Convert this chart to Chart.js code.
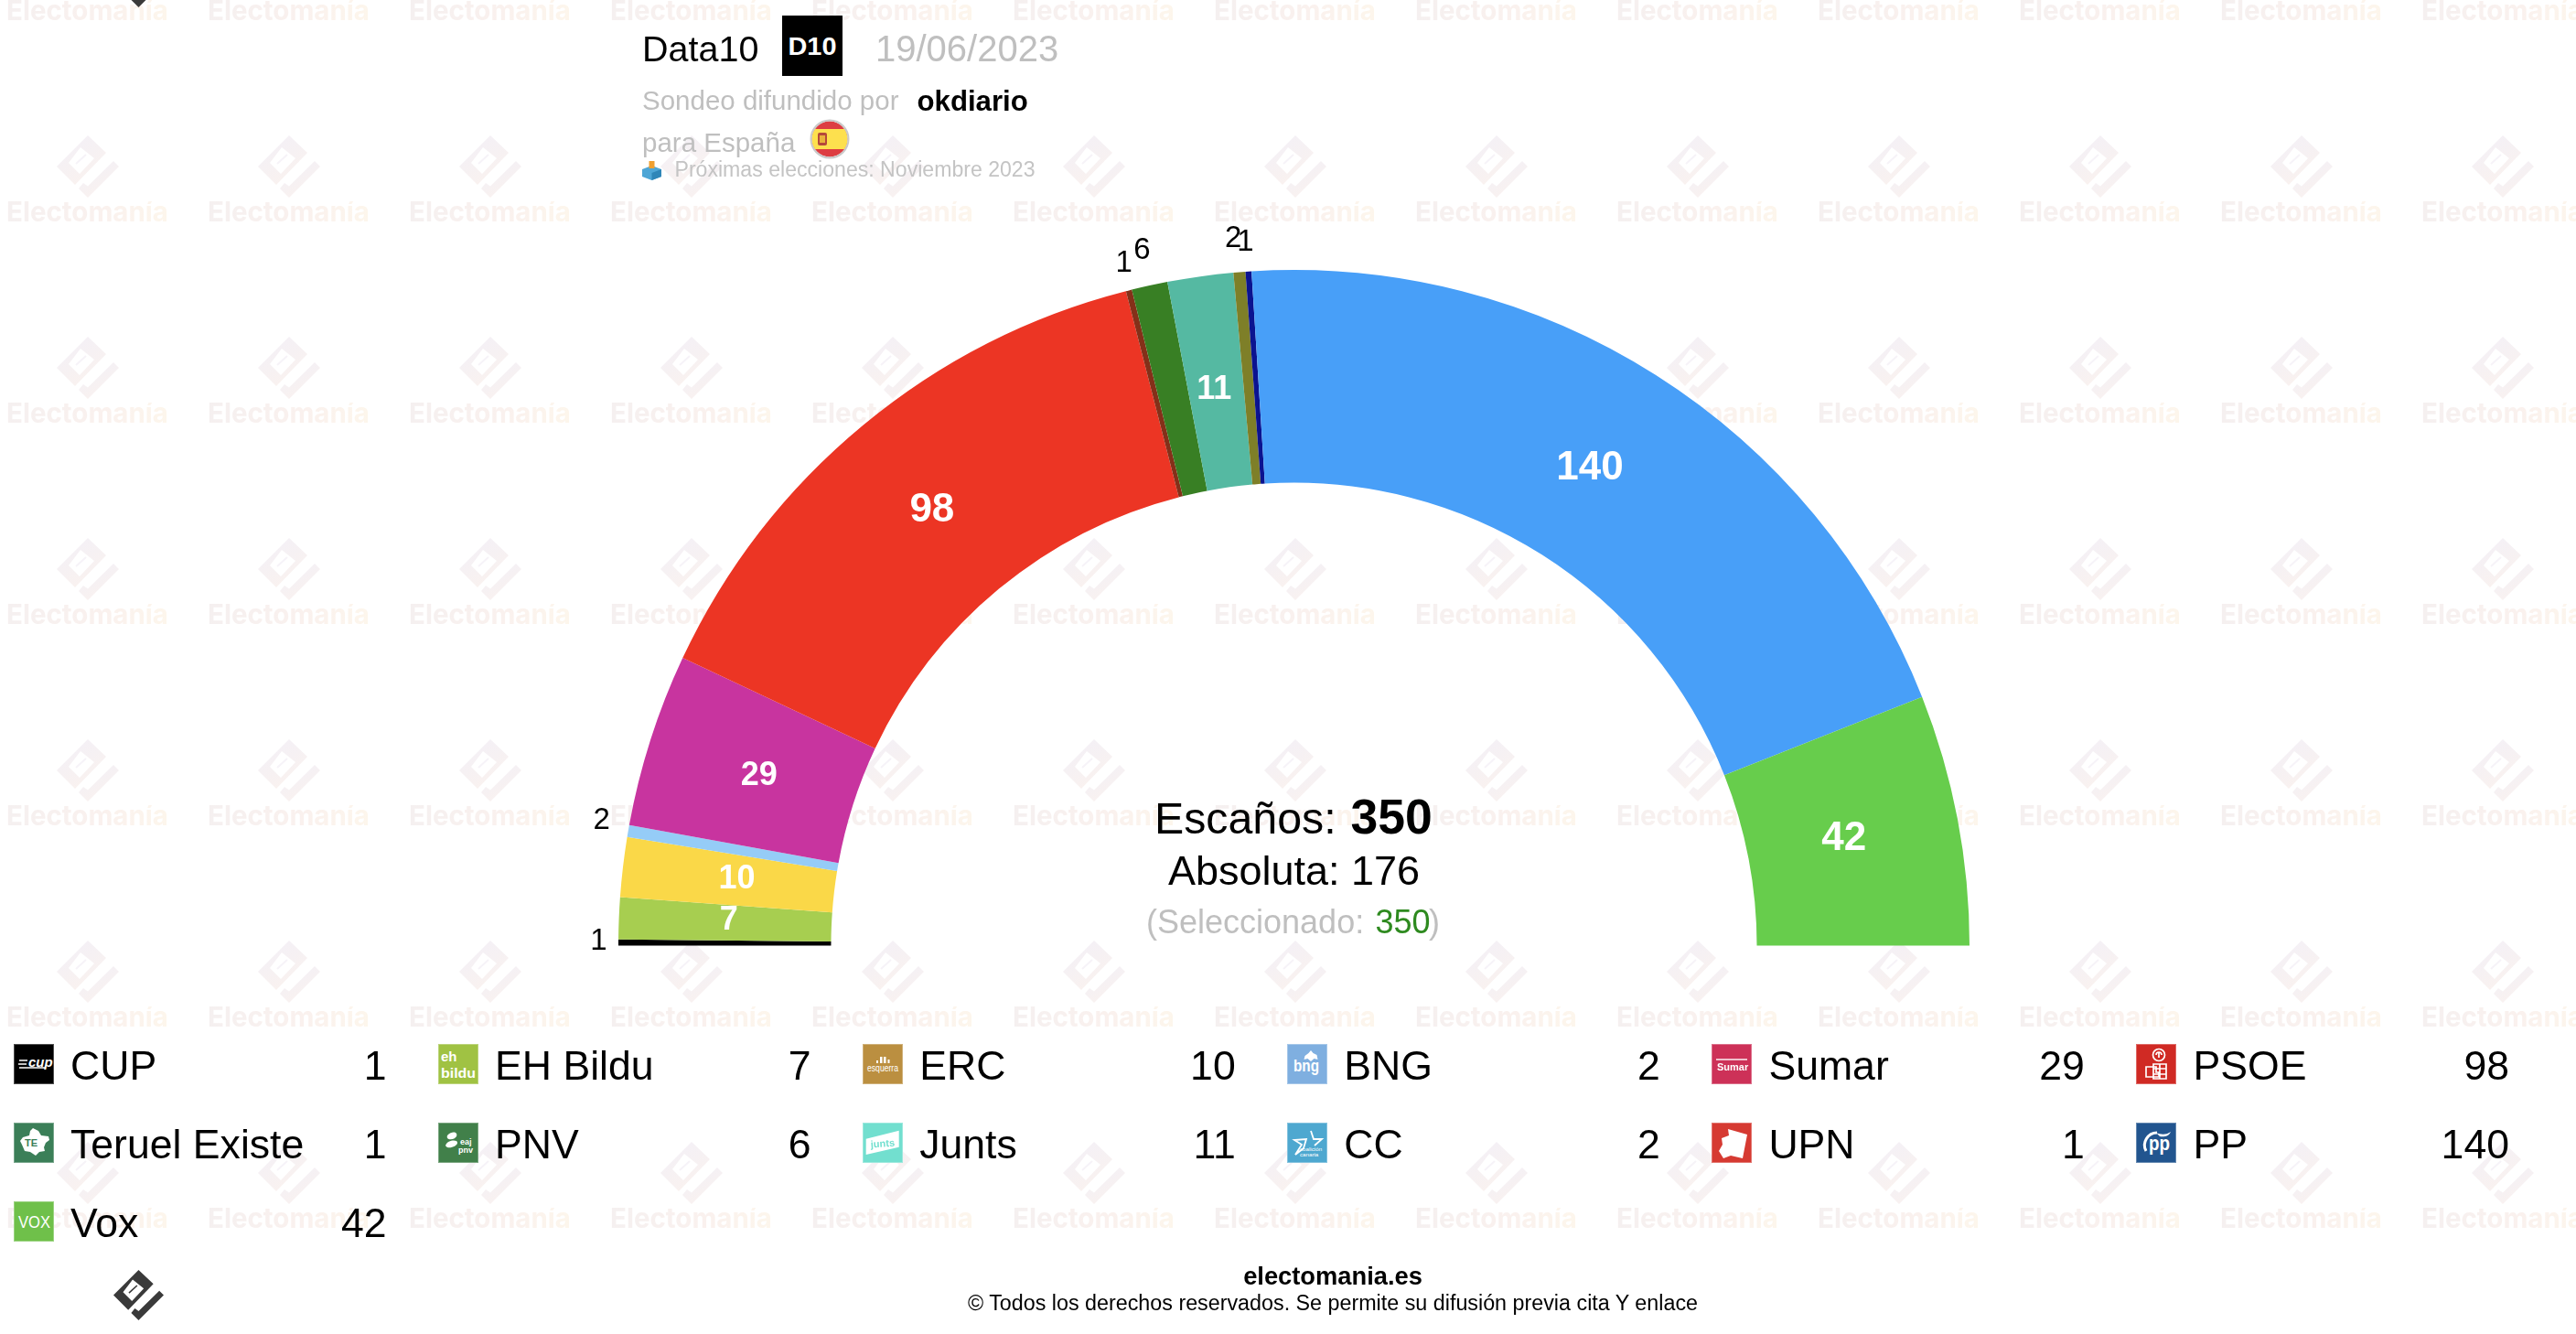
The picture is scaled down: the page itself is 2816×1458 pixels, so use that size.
<!DOCTYPE html>
<html lang="es">
<head>
<meta charset="utf-8">
<title>Data10 19/06/2023</title>
<script src="https://cdn.jsdelivr.net/npm/chart.js@4"></script>
<style>
html,body{margin:0;padding:0;background:#fff;width:2816px;height:1458px;overflow:hidden}
#wm,#c,#ui{position:absolute;left:0;top:0}
#ui{width:2816px;height:1458px}
.t{position:absolute;white-space:nowrap;line-height:1;font-family:"Liberation Sans",Arial,sans-serif;color:#000}
</style>
</head>
<body>
<svg id="wm" width="2816" height="1458" xmlns="http://www.w3.org/2000/svg">
<defs>
<linearGradient id="wt" x1="0" x2="1" y1="0" y2="0"><stop offset="0" stop-color="#f5f0f0"/><stop offset="0.6" stop-color="#faf1ee"/><stop offset="1" stop-color="#fdf6ec"/></linearGradient>
<linearGradient id="wl" x1="0" x2="0.6" y1="0" y2="1"><stop offset="0" stop-color="#f3f0f8"/><stop offset="0.55" stop-color="#f6f1f3"/><stop offset="1" stop-color="#faf2ef"/></linearGradient>
<pattern id="wp" x="0" y="0" width="220" height="220" patternUnits="userSpaceOnUse">
<text x="7" y="22" font-family="Inter" font-weight="700" font-size="30" fill="url(#wt)" textLength="177" lengthAdjust="spacingAndGlyphs">Electomanía</text>
<g transform="translate(62,148)">
<path fill="url(#wl)" fill-rule="evenodd" d="M34 0L54 19L20 54L0 34ZM26 13L13 30L25 42L41 25Z"/>
<path fill="url(#wl)" d="M68 34L34 68L24 58L29 52L34 55.5L62 28Z"/>
<path stroke="#f6f3f8" stroke-width="2" d="M21 31L32 21"/>
</g>
</pattern>
</defs>
<rect width="2816" height="1458" fill="url(#wp)"/>
</svg>
<canvas id="c" width="2816" height="1458"></canvas>
<div id="ui"></div>
<script>
const parties = ["CUP","EH Bildu","ERC","BNG","Sumar","PSOE","Teruel Existe","PNV","Junts","CC","UPN","PP","Vox"];
const seats = [1,7,10,2,29,98,1,6,11,2,1,140,42];
const sliceColors = ["#000000","#a7ce50","#fad848","#95ccf7","#c8349f","#ec3524","#843019","#387f24","#55b9a2","#7e7f28","#0b1390","#489ff8","#67cd4c"];
const iconColors = ["#000000","#a0c243","#bb8f40","#7fafe0","#cd3158","#d02a24","#3b7f58","#41804a","#72dfcf","#4ea8d0","#d63a32","#22558f","#6fc04a"];
const totalSeats = 350;
const majority = 176;
const selected = 350;

const F = '"Liberation Sans",Arial,sans-serif';
const labelNudge = {
  "CUP":[12.5,-3],"BNG":[4.5,-7],"Teruel Existe":[3,1],"PNV":[-1,-7],"CC":[-4,-5],"UPN":[-1,0],
  "PP":[-10,0],"Vox":[-10,-4],"Sumar":[8,0],"Junts":[-1,5],"ERC":[9,-4],"EH Bildu":[4,-6],"PSOE":[1,0]
};
const sliceLabels = {
  id:'sliceLabels',
  afterDatasetsDraw(chart){
    const {ctx} = chart;
    const arcs = chart.getDatasetMeta(0).data;
    ctx.save();
    ctx.textAlign='center';
    ctx.textBaseline='middle';
    arcs.forEach((a,i)=>{
      const v = seats[i], n = labelNudge[parties[i]]||[0,0];
      let x,y,lift;
      if(v<=6){
        const p=a.getProps(['x','y','startAngle','endAngle','outerRadius'],true);
        const m=(p.startAngle+p.endAngle)/2, r=p.outerRadius+34;
        x=p.x+Math.cos(m)*r; y=p.y+Math.sin(m)*r; lift=2;
        ctx.font='33px '+F; ctx.fillStyle='#000';
      }else{
        const c=a.tooltipPosition(true);
        x=c.x;y=c.y; lift=4;
        ctx.font='bold '+(v>=40?44:36)+'px '+F; ctx.fillStyle='#fff';
      }
      ctx.fillText(String(v),x+n[0],y+n[1]+lift);
    });
    ctx.restore();
  }
};
new Chart(document.getElementById('c'),{
  type:'doughnut',
  data:{labels:parties,datasets:[{data:seats,backgroundColor:sliceColors,borderWidth:0,hoverOffset:0}]},
  options:{
    responsive:false,animation:false,devicePixelRatio:1,
    rotation:-90,circumference:180,cutout:'68.52%',
    layout:{padding:{left:676,right:663,top:295,bottom:424.5}},
    plugins:{legend:{display:false},tooltip:{enabled:false}}
  },
  plugins:[sliceLabels]
});

const ui=document.getElementById('ui');
function text(s,x,base,fs,o={}){
  const d=document.createElement('div');d.className='t';d.textContent=s;
  d.style.fontSize=fs+'px';d.style.top=(base-.8465*fs)+'px';
  if(o.align==='right')d.style.right=(2816-x)+'px';
  else if(o.align==='center'){d.style.left=x+'px';d.style.transform='translateX(-50%)';}
  else d.style.left=x+'px';
  if(o.bold)d.style.fontWeight='700';
  if(o.color)d.style.color=o.color;
  ui.appendChild(d);return d;
}
function svg(x,y,w,h,inner,vb){
  const n=document.createElement('div');
  n.style.cssText=`position:absolute;left:${x}px;top:${y}px;width:${w}px;height:${h}px`;
  n.innerHTML=`<svg xmlns="http://www.w3.org/2000/svg" width="${w}" height="${h}" viewBox="${vb||`0 0 ${w} ${h}`}" style="display:block">${inner}</svg>`;
  ui.appendChild(n);
}
const GREY='#bfbfbf';
// header
text('Data10',702,67,39.5);
svg(854.5,17,66,66,`<rect width="66" height="66" fill="#000"/><text x="33" y="43" text-anchor="middle" font-family='${F}' font-weight="700" font-size="28" fill="#fff" textLength="53" lengthAdjust="spacingAndGlyphs">D10</text>`);
text('19/06/2023',957,67,40,{color:GREY});
text('Sondeo difundido por',702,120,29.5,{color:GREY});
text('okdiario',1002.5,121,31.2,{bold:true});
text('para España',702,166,29.5,{color:GREY});
svg(885,130,44,44,`<defs><clipPath id="fl"><circle cx="22" cy="22" r="19.5"/></clipPath></defs>
<g clip-path="url(#fl)"><rect width="44" height="44" fill="#dd3d42"/><rect y="11" width="44" height="22" fill="#fde04e"/>
<rect x="9" y="15" width="10" height="14" rx="2" fill="#b5483a"/><rect x="11" y="18" width="6" height="8" fill="#e9b23c"/></g>
<circle cx="22" cy="22" r="20.5" fill="none" stroke="#c9c9c9" stroke-width="2"/>`);
svg(702,176,21,21,`<path d="M10.5 5L21 9V17L10.5 21L0 17V9Z" fill="#4ea6d6"/><path d="M10.5 13L21 9V17L10.5 21Z" fill="#2f86b8"/><rect x="7.5" y="0" width="6" height="8" fill="#f0a030"/>`);
text('Próximas elecciones: Noviembre 2023',737.5,194,23.1,{color:'#c4c4c4'});

// centre
text('Escaños:',1262,911,48.3);
text(String(totalSeats),1476.5,911,53.5,{bold:true});
text('Absoluta: '+majority,1414.5,967,45,{align:'center'});
text('(Seleccionado: ',1253,1020,36,{color:GREY});
text(String(selected),1503.5,1020,36,{color:'#2e8a1f'});
text(')',1574,1020,36,{color:GREY,align:'right'});

// legend
const T=(s,x,y,fs,extra='')=>`<text x="${x}" y="${y}" font-family='${F}' font-size="${fs}" fill="#fff" ${extra}>${s}</text>`;
const iconArt=[
  `<path d="M6 18h9M5 22h9M6 26h28" stroke="#fff" stroke-width="1.6"/>`+T('cup',16,25,15,'font-weight="700" font-style="italic"'),
  T('eh',3,19,15,'font-weight="700"')+T('bildu',3,37,15,'font-weight="700" textLength="38" lengthAdjust="spacingAndGlyphs"'),
  `<path d="M15 21h2v-3h-2zM19 21h2.5v-7h-2.5zM23 21h2.5v-7h-2.5zM27.500 21h2v-4h-2z" fill="#fff"/>`+T('esquerra',5,30,10,'textLength="34" lengthAdjust="spacingAndGlyphs"'),
  `<path d="M26 7l2.500 3 4 2 1 5-4-1-3.500 3-3.500-3-4 1 1-4 4-3z" fill="#fff"/>`+T('bng',7,30,18,'font-weight="700" font-family="Liberation Serif" textLength="28" lengthAdjust="spacingAndGlyphs"'),
  `<rect x="5" y="16" width="34" height="2" fill="#fff" opacity=".7"/>`+T('Sumar',6,29,11,'font-weight="700"'),
  `<g fill="none" stroke="#fff" stroke-width="1.7"><circle cx="25" cy="12" r="6.500"/><path d="M22 12a3 3 0 1 1 6 0M25 9v6M19 22h14v16h-14zM19 27h14M19 33h14M26 22v16M11 25h11v6h3v5H11z"/></g>`,
  `<path d="M21 6l6 3 3 5 8 1 1 4-4 3-2 5 1 4-6 1-4 4-6-4-6-1-3-7-2-4 3-4 7-2 1-5z" fill="#fff"/>`+T('TE',12,26,11,'font-weight="700" style="fill:#3b7f58"'),
  `<path d="M10 14c6-6 12-3 10 1s-12 5-10-1ZM8 25c2-6 13-7 13-3s-11 8-13 3Z" fill="#fff"/>`+T('eaj',24,24,9,'font-weight="700"')+T('pnv',22,33,9,'font-weight="700"'),
  `<path d="M3.700 17.700L39.700 8.700V26.700L3.700 35Z" fill="#fff"/>`+T('junts',9,27.500,11,'font-weight="700" style="fill:#72dfcf" transform="rotate(-4 9 27)"'),
  `<path d="M26 9L29 18L38 18L30 25M18 28L9 35L16 24L8 19L21 18Z" fill="none" stroke="#fff" stroke-width="1.800"/>`+T('coalición',14,31,6.200)+T('canaria',14,37,6.200),
  `<path d="M18 7l21 6-5 26-13-3-8 3-5-8 4-7-1-7 8-3Z" fill="#fff"/>`,
  `<path d="M11 31c-5-9 2-20 12-20" fill="none" stroke="#fff" stroke-width="3"/><path d="M22 11c5 2 10 3 16-1-2 5-8 6-12 5z" fill="#fff"/>`+T('pp',14,30,22,'font-weight="700" textLength="23" lengthAdjust="spacingAndGlyphs"'),
  T('VOX',5,29,19,'textLength="35" lengthAdjust="spacingAndGlyphs"')
];
parties.forEach((p,i)=>{
  const col=i%6,row=Math.floor(i/6);
  const x=14.5+464.1*col, y=1141+86*row, base=1180.5+86*row;
  svg(x,y,44,44,`<rect width="44" height="44" fill="${iconColors[i]}"/>${iconArt[i]}<rect x=".5" y=".5" width="43" height="43" fill="none" stroke="#fff" stroke-opacity=".3"/>`);
  text(p,x+62.5,base,44.6);
  text(String(seats[i]),x+408,base,44.6,{align:'right'});
});

// footer
text('electomania.es',1457,1404.5,27.3,{bold:true,align:'center'});
text('© Todos los derechos reservados. Se permite su difusión previa cita Y enlace',1457,1432.5,23.3,{align:'center'});

// dark logos
const logo=`<path fill="#3a3a3a" fill-rule="evenodd" d="M34 0L54 19L20 54L0 34ZM26 13L13 30L25 42L41 25Z"/><path fill="#3a3a3a" d="M68 34L34 68L24 58L29 52L34 55.5L62 28Z"/><path stroke="#3a3a3a" stroke-width="2" d="M21 31L32 21"/>`;
svg(124,1388,55,55,logo,'0 0 68 68');
svg(124,-47,55,55,logo,'0 0 68 68');
</script>
</body>
</html>
